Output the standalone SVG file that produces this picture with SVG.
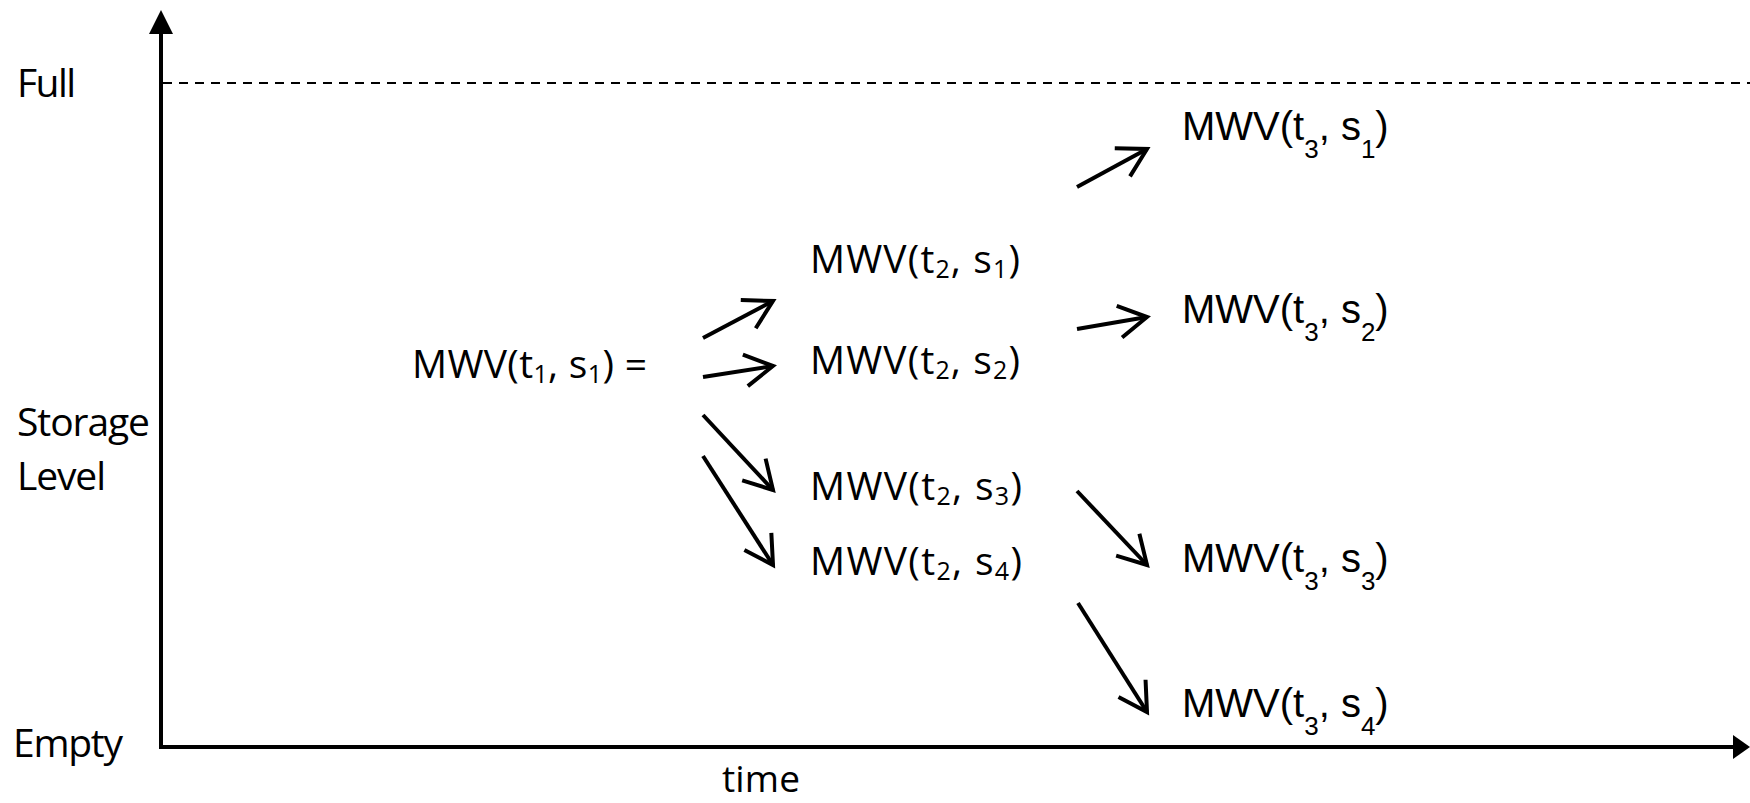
<svg xmlns="http://www.w3.org/2000/svg" width="1750" height="803" viewBox="0 0 1750 803">
  <style>
    .lbl { font-family: "Open Sans", "Noto Sans", sans-serif; font-size: 39px; fill: #000; }
    .lbl .sub { font-size: 25px; }
    .arial { font-family: "Liberation Sans", Arial, sans-serif; font-size: 40px; fill: #000; }
    .arial .sub { font-size: 26px; }
    .axis { stroke: #000; stroke-width: 4; fill: none; }
    .guide { stroke: #000; stroke-width: 2; stroke-dasharray: 9 7; fill: none; }
    .edge { stroke: #000; stroke-width: 4; fill: none; marker-end: url(#open); }
  </style>
  <defs>
    <marker id="open" markerUnits="userSpaceOnUse" viewBox="-34 -20 38 40" markerWidth="38" markerHeight="40" refX="0" refY="0" orient="auto" overflow="visible">
      <path d="M-28,-16 L0,0 L-28,16" stroke="#000" stroke-width="4" fill="none" stroke-linejoin="miter"/>
    </marker>
  </defs>

  <rect width="1750" height="803" fill="#fff"/>

  <!-- axes -->
  <g id="axes">
    <line class="axis" x1="161" y1="30" x2="161" y2="747"/>
    <polygon points="161,10 149,34 173,34" fill="#000"/>
    <line class="axis" x1="159" y1="747" x2="1735" y2="747"/>
    <polygon points="1750,747 1733,735 1733,759" fill="#000"/>
    <line class="guide" x1="163" y1="83" x2="1750" y2="83"/>
  </g>

  <!-- axis labels -->
  <g id="axis-labels">
    <text class="lbl" x="17" y="97" textLength="59">Full</text>
    <text class="lbl" x="17" y="436" textLength="133">Storage</text>
    <text class="lbl" x="17" y="490" textLength="89">Level</text>
    <text class="lbl" x="13" y="757" textLength="110">Empty</text>
    <text class="lbl" x="722" y="792" textLength="78" style="font-size:37px">time</text>
  </g>

  <!-- stage t1 -->
  <g id="node-t1-s1">
    <text class="lbl" x="412" y="378" textLength="235">MWV(t<tspan class="sub" dy="5">1</tspan><tspan dy="-5">, s</tspan><tspan class="sub" dy="5">1</tspan><tspan dy="-5">) =</tspan></text>
  </g>

  <!-- stage t2 -->
  <g id="node-t2-s1">
    <text class="lbl" x="810" y="273" textLength="210">MWV(t<tspan class="sub" dy="5">2</tspan><tspan dy="-5">, s</tspan><tspan class="sub" dy="5">1</tspan><tspan dy="-5">)</tspan></text>
  </g>
  <g id="node-t2-s2">
    <text class="lbl" x="810" y="374" textLength="210">MWV(t<tspan class="sub" dy="5">2</tspan><tspan dy="-5">, s</tspan><tspan class="sub" dy="5">2</tspan><tspan dy="-5">)</tspan></text>
  </g>
  <g id="node-t2-s3">
    <text class="lbl" x="810" y="500" textLength="212">MWV(t<tspan class="sub" dy="5">2</tspan><tspan dy="-5">, s</tspan><tspan class="sub" dy="5">3</tspan><tspan dy="-5">)</tspan></text>
  </g>
  <g id="node-t2-s4">
    <text class="lbl" x="810" y="575" textLength="212">MWV(t<tspan class="sub" dy="5">2</tspan><tspan dy="-5">, s</tspan><tspan class="sub" dy="5">4</tspan><tspan dy="-5">)</tspan></text>
  </g>

  <!-- stage t3 -->
  <g id="node-t3-s1">
    <text class="arial" x="1182" y="140">MWV(t<tspan class="sub" dy="18">3</tspan><tspan dy="-18">, s</tspan><tspan class="sub" dy="18">1</tspan><tspan dy="-18">)</tspan></text>
  </g>
  <g id="node-t3-s2">
    <text class="arial" x="1182" y="323">MWV(t<tspan class="sub" dy="18">3</tspan><tspan dy="-18">, s</tspan><tspan class="sub" dy="18">2</tspan><tspan dy="-18">)</tspan></text>
  </g>
  <g id="node-t3-s3">
    <text class="arial" x="1182" y="572">MWV(t<tspan class="sub" dy="18">3</tspan><tspan dy="-18">, s</tspan><tspan class="sub" dy="18">3</tspan><tspan dy="-18">)</tspan></text>
  </g>
  <g id="node-t3-s4">
    <text class="arial" x="1182" y="717">MWV(t<tspan class="sub" dy="18">3</tspan><tspan dy="-18">, s</tspan><tspan class="sub" dy="18">4</tspan><tspan dy="-18">)</tspan></text>
  </g>

  <!-- transitions -->
  <g id="connectors">
    <line class="edge" x1="703" y1="338" x2="773" y2="301"/>
    <line class="edge" x1="703" y1="377" x2="773" y2="366"/>
    <line class="edge" x1="703" y1="415" x2="773" y2="490"/>
    <line class="edge" x1="703" y1="456" x2="773" y2="565"/>
    <line class="edge" x1="1077" y1="187" x2="1147" y2="149"/>
    <line class="edge" x1="1077" y1="329" x2="1147" y2="317"/>
    <line class="edge" x1="1077" y1="491" x2="1147" y2="565"/>
    <line class="edge" x1="1078" y1="603" x2="1147" y2="712"/>
  </g>
</svg>
